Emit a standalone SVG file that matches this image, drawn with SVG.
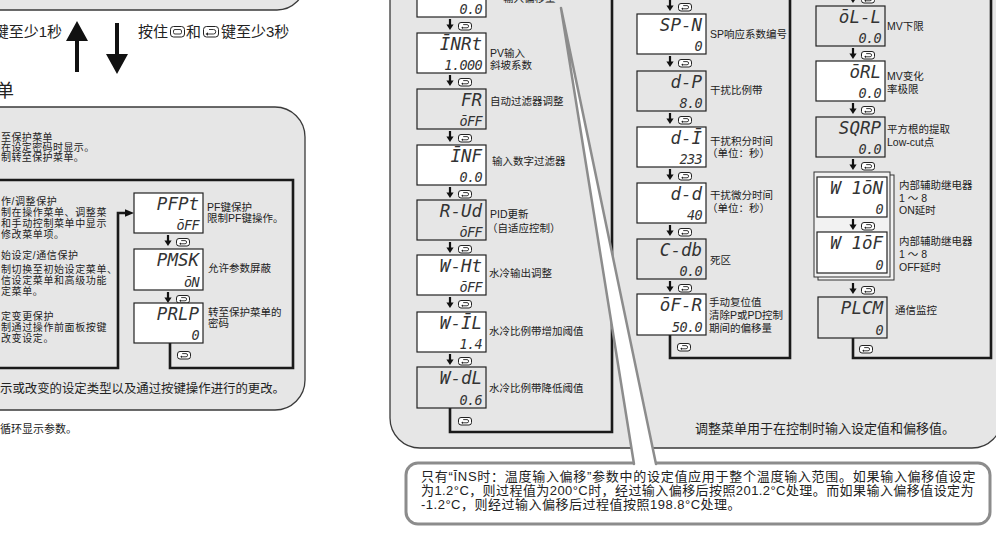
<svg xmlns="http://www.w3.org/2000/svg" width="996" height="547" viewBox="0 0 996 547">
<defs>
<style>
.panel{fill:#e6e6e6;stroke:#3a3a3a;stroke-width:1.3}
.disp{fill:#fff;stroke:#222;stroke-width:1.2}
.dispg{fill:#e6e6e6;stroke:#222;stroke-width:1.2}
.seg{font-family:"DejaVu Sans Mono",monospace;font-style:oblique;font-size:17.5px;fill:#333;text-anchor:end}
.segv{font-family:"DejaVu Sans Mono",monospace;font-style:oblique;font-size:13.5px;fill:#333;text-anchor:end;letter-spacing:-0.6px}
.lb{font-family:"Liberation Sans","Noto Sans CJK SC",sans-serif;font-size:10.5px;fill:#222}
.ld{font-family:"Liberation Sans","Noto Sans CJK SC",sans-serif;font-size:10px;letter-spacing:0.6px;fill:#222}
.s11{font-size:11px}
.s12{font-size:12.4px}
.s13{font-size:13px}
.co{font-size:13px;letter-spacing:0.5px}
.hd{font-family:"Liberation Sans","Noto Sans CJK SC",sans-serif;font-size:15px;fill:#222}
.frame{fill:none;stroke:#1a1a1a;stroke-width:2.6}
.keyr{fill:#fff;stroke:#222;stroke-width:1}
</style>
<g id="keyicon">
<rect class="keyr" x="0.5" y="0.5" width="13" height="7.5" rx="2.5"/>
<path d="M5.2 2.6 H9 A1.6 1.6 0 0 1 9 5.8 H4.5" fill="none" stroke="#222" stroke-width="0.9"/>
<path d="M3.2 5.8 L5 4.6 L5 7 Z" fill="#222"/>
</g>
<g id="step">
<rect x="-1.1" y="0" width="2.2" height="6.5" fill="#111"/>
<path d="M-3.6 5.5 H3.6 L0 11 Z" fill="#111"/>
<use href="#keyicon" x="8" y="3"/>
</g>
</defs>
<rect width="996" height="547" fill="#fff"/>

<!-- header -->
<g id="header">
<rect class="panel" x="-40" y="-100" width="345" height="110" rx="28"/>
<text class="hd" x="62" y="37" text-anchor="end">键至少1秒</text>
<path d="M75 72 V38 H79 V72 Z M66 41 L77 21 L88 41 Z" fill="#111"/>
<path d="M115 23 V56 H119 V23 Z M106 54 L117 74 L128 54 Z" fill="#111"/>
<text class="hd" x="138" y="37">按住<tspan x="186">和</tspan><tspan x="221">键至少3秒</tspan></text>
<rect x="170.5" y="26.5" width="14" height="10.5" rx="3" fill="#fff" stroke="#222" stroke-width="1"/>
<rect x="173.5" y="29.5" width="8" height="4.5" rx="1.5" fill="none" stroke="#222" stroke-width="0.9"/>
<rect x="203.5" y="26.5" width="15" height="10.5" rx="3" fill="#fff" stroke="#222" stroke-width="1"/>
<path d="M209 29.5 H213.5 A2.2 2.2 0 0 1 213.5 34 H207.5" fill="none" stroke="#222" stroke-width="0.9"/>
<path d="M205.5 34 L208 32.3 L208 35.7 Z" fill="#222"/>
<text x="-4" y="97" style="font-family:'Liberation Sans','Noto Sans CJK SC',sans-serif;font-size:18px" fill="#222">单</text>
</g>

<!-- left protect menu panel -->
<g id="protect-panel">
<rect class="panel" x="-40" y="107" width="345" height="303" rx="30"/>
<text class="ld" style="letter-spacing:0.4px"><tspan x="1" y="141">至保护菜单</tspan><tspan x="1" y="151">在设定密码时显示。</tspan><tspan x="1" y="160.5">制转至保护菜单。</tspan></text>
<text class="ld"><tspan x="1" y="205">作/调整保护</tspan><tspan x="1" y="216">制在操作菜单、调整菜</tspan><tspan x="1" y="227">和手动控制菜单中显示</tspan><tspan x="1" y="237.5">修改菜单项。</tspan></text>
<text class="ld"><tspan x="1" y="259">始设定/通信保护</tspan><tspan x="1" y="273">制切换至初始设定菜单、</tspan><tspan x="1" y="284">信设定菜单和高级功能</tspan><tspan x="1" y="294.5">定菜单。</tspan></text>
<text class="ld"><tspan x="1" y="320">定变更保护</tspan><tspan x="1" y="331">制通过操作前面板按键</tspan><tspan x="1" y="341.5">改变设定。</tspan></text>
<text class="lb s12" x="285" y="393" text-anchor="end">示或改变的设定类型以及通过按键操作进行的更改。</text>
</g>
<text class="lb s11" x="77" y="433" text-anchor="end">循环显示参数。</text>

<!-- middle/right adjustment panel -->
<g id="adjust-panel">
<rect class="panel" x="390" y="-60" width="612" height="508" rx="30"/>
<text class="lb s13" x="955" y="433" text-anchor="end">调整菜单用于在控制时输入设定值和偏移值。</text>
</g>

<!-- connectors -->
<g id="connectors">
<path class="frame" d="M-5 180 H293 V368 H170 V343"/>
<path class="frame" d="M-5 368 H118 V213 H126"/>
<path d="M125 209.3 L134 213 L125 216.7 Z" fill="#111"/>
<path class="frame" d="M612 -5 V432 H450 V408"/>
<path class="frame" d="M790 -5 V358 H670 V335"/>
<path class="frame" d="M991 -5 V358 H853 V338"/>
<use href="#step" x="168" y="235"/>
<use href="#step" x="168" y="292"/>
<use href="#keyicon" x="177" y="351"/>
<use href="#step" x="450" y="19"/>
<use href="#step" x="450" y="75"/>
<use href="#step" x="450" y="131"/>
<use href="#step" x="450" y="187"/>
<use href="#step" x="450" y="242"/>
<use href="#step" x="450" y="297"/>
<use href="#step" x="450" y="354"/>
<use href="#keyicon" x="458" y="417"/>
<use href="#step" x="670" y="0"/>
<use href="#step" x="670" y="56"/>
<use href="#step" x="670" y="113"/>
<use href="#step" x="670" y="169"/>
<use href="#step" x="670" y="225"/>
<use href="#step" x="670" y="281"/>
<use href="#keyicon" x="677" y="343"/>
<use href="#step" x="853" y="-8"/>
<use href="#step" x="853" y="48"/>
<use href="#step" x="853" y="103"/>
<use href="#step" x="853" y="159"/>
<use href="#step" x="853" y="283"/>
<use href="#keyicon" x="859" y="345"/>
</g>

<!-- left nodes -->
<g id="node-pfpt"><rect class="disp" x="134" y="193" width="69" height="40"/><text class="seg" x="199" y="210">PFPt</text><text class="segv" x="199" y="230">ōFF</text><text class="lb" x="207" y="211">PF键保护</text><text class="lb" x="207" y="222">限制PF键操作。</text></g>
<g id="node-pmsk"><rect class="disp" x="134" y="249" width="69" height="41"/><text class="seg" x="199" y="266">PMSK</text><text class="segv" x="199" y="287">ōN</text><text class="lb" x="208" y="272">允许参数屏蔽</text></g>
<g id="node-prlp"><rect class="disp" x="134" y="303" width="69" height="40"/><text class="seg" x="199" y="320">PRLP</text><text class="segv" x="199" y="340">0</text><text class="lb" x="208" y="316">转至保护菜单的</text><text class="lb" x="208" y="327">密码</text></g>

<!-- column 1 -->
<g id="node-ins"><rect class="disp" x="417" y="-23" width="69" height="40"/><text class="segv" x="482" y="14">0.0</text><text class="lb" x="503" y="2">输入偏移量</text></g>
<g id="node-inrt"><rect class="disp" x="417" y="33" width="69" height="40"/><text class="seg" x="482" y="50">ĪNRt</text><text class="segv" x="482" y="70">1.000</text><text class="lb" x="490" y="57">PV输入</text><text class="lb" x="490" y="69">斜坡系数</text></g>
<g id="node-fa"><rect class="dispg" x="417" y="89" width="69" height="40"/><text class="seg" x="482" y="106">FR</text><text class="segv" x="482" y="126">ōFF</text><text class="lb" x="490" y="105">自动过滤器调整</text></g>
<g id="node-inf"><rect class="disp" x="417" y="145" width="69" height="40"/><text class="seg" x="482" y="162">ĪNF</text><text class="segv" x="482" y="182">0.0</text><text class="lb" x="492" y="165">输入数字过滤器</text></g>
<g id="node-aud"><rect class="dispg" x="417" y="200" width="69" height="40"/><text class="seg" x="482" y="217">R-Ud</text><text class="segv" x="482" y="237">ōFF</text><text class="lb" x="490" y="218">PID更新</text><text class="lb" x="487" y="232">（自适应控制）</text></g>
<g id="node-wht"><rect class="disp" x="417" y="255" width="69" height="40"/><text class="seg" x="482" y="272">W-Ht</text><text class="segv" x="482" y="292">ōFF</text><text class="lb" x="489" y="277">水冷输出调整</text></g>
<g id="node-wcl"><rect class="disp" x="417" y="312" width="69" height="40"/><text class="seg" x="482" y="329">W-ĪL</text><text class="segv" x="482" y="349">1.4</text><text class="lb" x="489" y="335">水冷比例带增加阈值</text></g>
<g id="node-wdl"><rect class="dispg" x="417" y="367" width="69" height="41"/><text class="seg" x="482" y="384">W-dL</text><text class="segv" x="482" y="405">0.6</text><text class="lb" x="489" y="392">水冷比例带降低阈值</text></g>

<!-- column 2 -->
<g id="node-spn"><rect class="disp" x="637" y="14" width="69" height="40"/><text class="seg" x="702" y="31">SP-N</text><text class="segv" x="702" y="51">0</text><text class="lb" x="710" y="38">SP响应系数编号</text></g>
<g id="node-dp"><rect class="dispg" x="637" y="71" width="69" height="40"/><text class="seg" x="702" y="88">d-P</text><text class="segv" x="702" y="108">8.0</text><text class="lb" x="710" y="94">干扰比例带</text></g>
<g id="node-di"><rect class="disp" x="637" y="127" width="69" height="40"/><text class="seg" x="702" y="144">d-Ī</text><text class="segv" x="702" y="164">233</text><text class="lb" x="710" y="145">干扰积分时间</text><text class="lb" x="707" y="157">（单位：秒）</text></g>
<g id="node-dd"><rect class="disp" x="637" y="183" width="69" height="40"/><text class="seg" x="702" y="200">d-d</text><text class="segv" x="702" y="220">40</text><text class="lb" x="710" y="199">干扰微分时间</text><text class="lb" x="707" y="212">（单位：秒）</text></g>
<g id="node-cdb"><rect class="dispg" x="637" y="239" width="69" height="40"/><text class="seg" x="702" y="256">C-db</text><text class="segv" x="702" y="276">0.0</text><text class="lb" x="710" y="264">死区</text></g>
<g id="node-ofr"><rect class="disp" x="637" y="294" width="69" height="41"/><text class="seg" x="702" y="311">ōF-R</text><text class="segv" x="702" y="332">50.0</text><text class="lb" x="709" y="306">手动复位值</text><text class="lb" x="709" y="319">清除P或PD控制</text><text class="lb" x="709" y="332">期间的偏移量</text></g>

<!-- column 3 -->
<g id="node-oll"><rect class="dispg" x="816" y="6" width="69" height="40"/><text class="seg" x="881" y="23">ōL-L</text><text class="segv" x="881" y="43">0.0</text><text class="lb" x="887" y="30">MV下限</text></g>
<g id="node-orl"><rect class="disp" x="816" y="61" width="69" height="40"/><text class="seg" x="881" y="78">ōRL</text><text class="segv" x="881" y="98">0.0</text><text class="lb" x="887" y="80">MV变化</text><text class="lb" x="887" y="93">率极限</text></g>
<g id="node-sqrp"><rect class="dispg" x="816" y="117" width="69" height="40"/><text class="seg" x="881" y="134">SQRP</text><text class="segv" x="881" y="154">0.0</text><text class="lb" x="887" y="133">平方根的提取</text><text class="lb" x="887" y="146">Low-cut点</text></g>
<g id="node-wstack">
<rect x="818" y="175" width="76" height="105" fill="#f2f2f2" stroke="#333" stroke-width="1"/>
<rect x="814" y="172" width="76" height="105" fill="#f2f2f2" stroke="#333" stroke-width="1"/>
</g>
<g id="node-w1on"><rect class="disp" x="817" y="177" width="70" height="40"/><text class="seg" x="883" y="194">W 1ōN</text><text class="segv" x="883" y="214">0</text><text class="lb" x="899" y="189">内部辅助继电器</text><text class="lb" x="899" y="202">1 ～ 8</text><text class="lb" x="899" y="214">ON延时</text></g>
<g id="node-w1of"><rect class="disp" x="817" y="232" width="70" height="41"/><text class="seg" x="883" y="249">W 1ōF</text><text class="segv" x="883" y="270">0</text><text class="lb" x="899" y="245">内部辅助继电器</text><text class="lb" x="899" y="258">1 ～ 8</text><text class="lb" x="899" y="271">OFF延时</text></g>
<use href="#step" x="853" y="219"/>
<g id="node-plcm"><rect class="dispg" x="818" y="297" width="69" height="41"/><text class="seg" x="883" y="314">PLCM</text><text class="segv" x="883" y="335">0</text><text class="lb" x="895" y="314">通信监控</text></g>

<!-- callout -->
<g id="callout">
<rect x="406" y="463" width="584" height="61" rx="12" fill="#fff" stroke="#8c8c8c" stroke-width="3"/>
<polygon points="561,8 634,467 656,467" fill="#fff"/>
<path d="M561 8 L634 464 M561 8 L656 464" fill="none" stroke="#8c8c8c" stroke-width="2.5" stroke-linecap="round"/>
<text class="lb co"><tspan x="421" y="481" textLength="555" lengthAdjust="spacing">只有“ĪNS时：温度输入偏移”参数中的设定值应用于整个温度输入范围。如果输入偏移值设定</tspan><tspan x="421" y="495" textLength="553" lengthAdjust="spacing">为1.2°C，则过程值为200°C时，经过输入偏移后按照201.2°C处理。而如果输入偏移值设定为</tspan><tspan x="421" y="509">-1.2°C，则经过输入偏移后过程值按照198.8°C处理。</tspan></text>
</g>
</svg>
